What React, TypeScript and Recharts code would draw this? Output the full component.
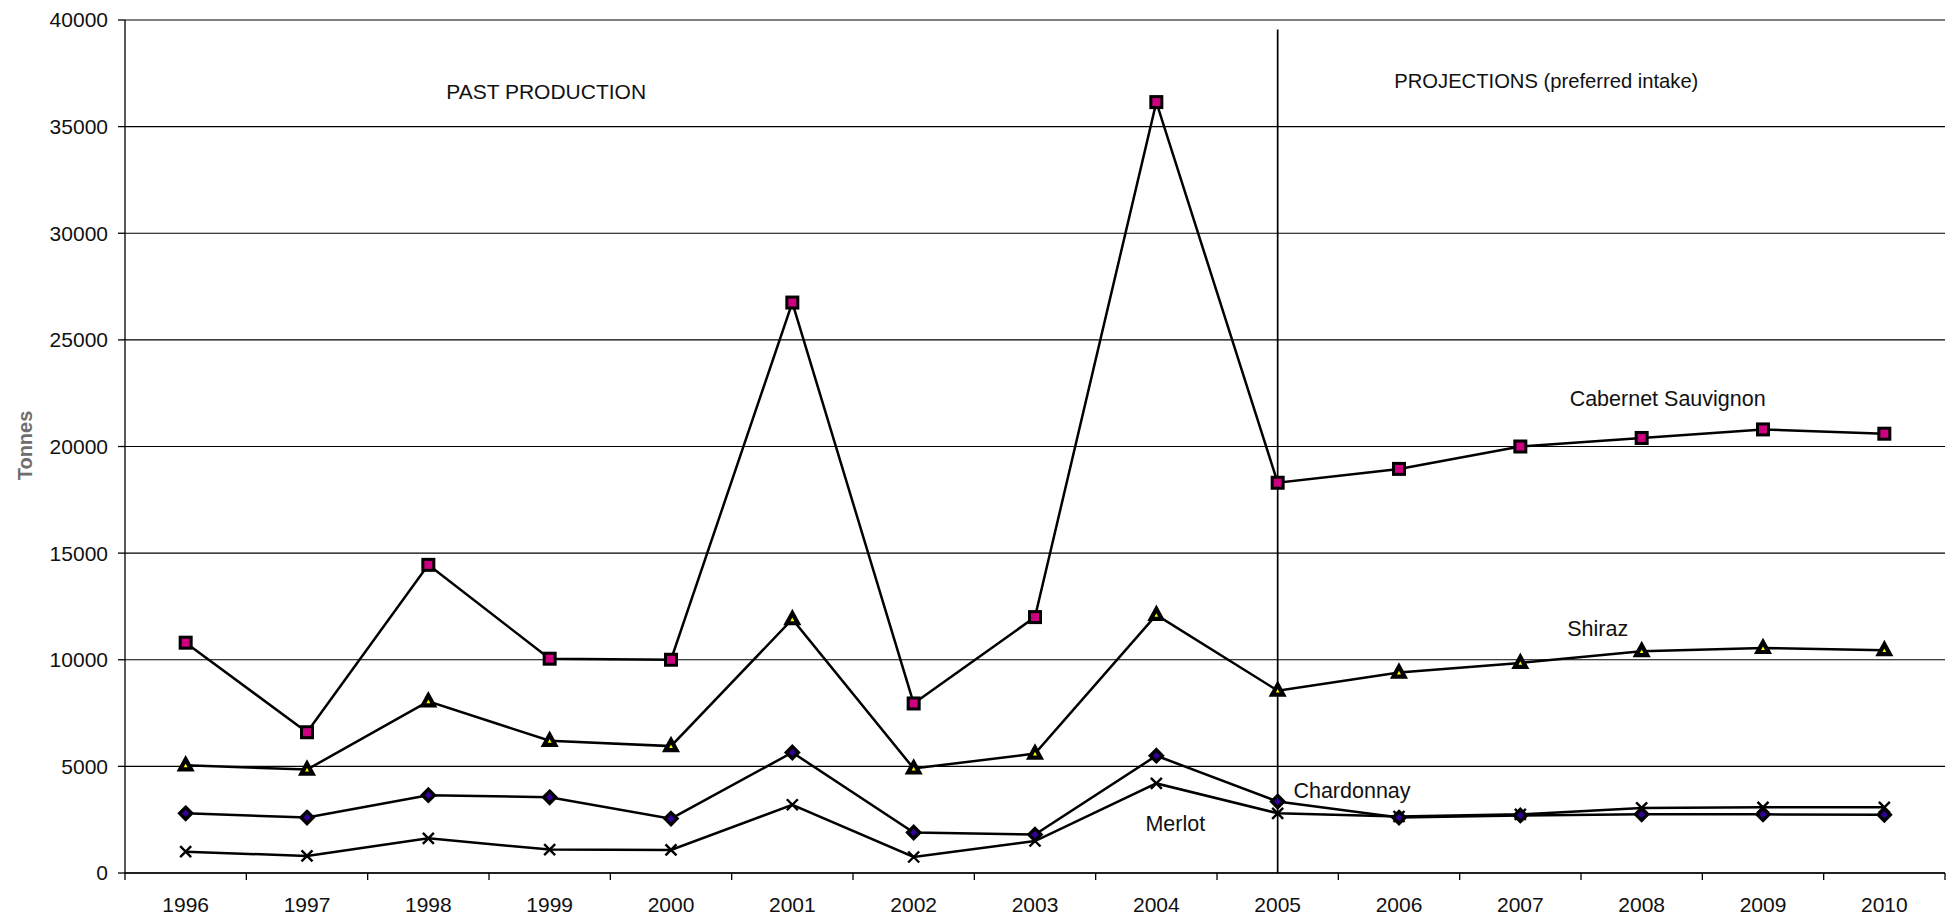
import React from 'react';
import {
  ComposedChart,
  Line,
  XAxis,
  YAxis,
  CartesianGrid,
  ReferenceLine,
  ReferenceDot,
} from 'recharts';

const years = ['1996', '1997', '1998', '1999', '2000', '2001', '2002', '2003', '2004', '2005', '2006', '2007', '2008', '2009', '2010'];
const cabernet = [10800, 6600, 14450, 10050, 10000, 26750, 7950, 12000, 36150, 18300, 18950, 20000, 20400, 20800, 20600];
const shiraz = [5050, 4850, 8050, 6200, 5950, 11900, 4900, 5600, 12100, 8550, 9400, 9850, 10400, 10550, 10450];
const chardonnay = [2800, 2600, 3650, 3550, 2550, 5650, 1900, 1800, 5500, 3350, 2600, 2700, 2750, 2750, 2730];
const merlot = [1000, 800, 1625, 1100, 1080, 3200, 750, 1500, 4200, 2800, 2650, 2750, 3050, 3080, 3080];
const yTicks = [0, 5000, 10000, 15000, 20000, 25000, 30000, 35000, 40000];

const data = years.map((year, i) => ({
  year,
  cabernet: cabernet[i],
  shiraz: shiraz[i],
  chardonnay: chardonnay[i],
  merlot: merlot[i],
}));

const FONT = '"Liberation Sans", Arial, Helvetica, sans-serif';

const SquareDot = (props: any) => {
  const { cx, cy } = props;
  if (cx == null || cy == null) return null;
  return <rect x={cx - 5.5} y={cy - 5.5} width={11} height={11} fill="#CC0080" stroke="#000" strokeWidth={3} />;
};

const TriangleDot = (props: any) => {
  const { cx, cy } = props;
  if (cx == null || cy == null) return null;
  return (
    <polygon
      points={`${cx},${cy - 6} ${cx - 5.5},${cy + 4} ${cx + 5.5},${cy + 4}`}
      fill="#FFFF00"
      stroke="#000"
      strokeWidth={4.2}
      strokeLinejoin="miter"
    />
  );
};

const DiamondDot = (props: any) => {
  const { cx, cy } = props;
  if (cx == null || cy == null) return null;
  return (
    <polygon
      points={`${cx},${cy - 6} ${cx + 6},${cy} ${cx},${cy + 6} ${cx - 6},${cy}`}
      fill="#330099"
      stroke="#000"
      strokeWidth={3.4}
    />
  );
};

const CrossDot = (props: any) => {
  const { cx, cy } = props;
  if (cx == null || cy == null) return null;
  return (
    <g stroke="#000" strokeWidth={2.4}>
      <line x1={cx - 5.5} y1={cy - 5.5} x2={cx + 5.5} y2={cy + 5.5} />
      <line x1={cx - 5.5} y1={cy + 5.5} x2={cx + 5.5} y2={cy - 5.5} />
    </g>
  );
};

const XTick = (props: any) => {
  const { x, y, payload, index } = props;
  const off = payload && payload.offset ? payload.offset : 0;
  const axisY = y - 24;
  const last = index === years.length - 1;
  return (
    <g>
      <line x1={x - off} y1={axisY} x2={x - off} y2={axisY + 7} stroke="#000" strokeWidth={1.3} />
      {last && <line x1={x + off} y1={axisY} x2={x + off} y2={axisY + 7} stroke="#000" strokeWidth={1.3} />}
      <text x={x} y={y} dy="0.71em" textAnchor="middle" fontFamily={FONT} fontSize={21} fill="#111">
        {payload.value}
      </text>
    </g>
  );
};

const makeLabel = (text: string, dx: number, size: number) => (p: any) => {
  const { cx, cy } = p;
  if (cx == null || cy == null) return null;
  return (
    <text x={cx + dx} y={cy} dy="0.355em" textAnchor="middle" fontFamily={FONT} fontSize={size} fill="#111">
      {text}
    </text>
  );
};

const TonnesLabel = (p: any) => {
  const vb = p.viewBox || { x: 0, y: 0, width: 0, height: 0 };
  const cx = vb.x + 24.5;
  const cy = vb.y + vb.height / 2 - 1;
  return (
    <text
      x={cx}
      y={cy}
      dy="0.355em"
      textAnchor="middle"
      transform={`rotate(-90 ${cx} ${cy})`}
      fontFamily={FONT}
      fontSize={20}
      fontWeight="bold"
      fill="#6e6e6e"
    >
      Tonnes
    </text>
  );
};

export default function App() {
  return (
    <div style={{ position: 'absolute', left: 0, top: 0, background: '#fff' }}>
      <ComposedChart
        width={1957}
        height={920}
        data={data}
        margin={{ top: 20, right: 12, left: 0, bottom: 0 }}
      >
        <CartesianGrid vertical={false} stroke="#000" strokeWidth={1.1} />
        <XAxis
          dataKey="year"
          scale="band"
          height={47}
          tickLine={false}
          tickSize={0}
          tickMargin={24}
          axisLine={{ stroke: '#000', strokeWidth: 1.3 }}
          tick={<XTick />}
          interval={0}
        />
        <YAxis
          width={125}
          domain={[0, 40000]}
          ticks={yTicks}
          interval={0}
          tickSize={7}
          tickMargin={10}
          tickLine={{ stroke: '#000', strokeWidth: 1.3 }}
          axisLine={{ stroke: '#000', strokeWidth: 1.3 }}
          tick={{ fontFamily: FONT, fontSize: 21, fill: '#111' }}
          label={{ content: <TonnesLabel /> }}
        />
        <ReferenceLine
          segment={[
            { x: '2005', y: 0 },
            { x: '2005', y: 39550 },
          ]}
          stroke="#000"
          strokeWidth={1.7}
        />
        <Line
          dataKey="merlot"
          stroke="#000"
          strokeWidth={2.5}
          dot={<CrossDot />}
          activeDot={false}
          isAnimationActive={false}
        />
        <Line
          dataKey="chardonnay"
          stroke="#000"
          strokeWidth={2.5}
          dot={<DiamondDot />}
          activeDot={false}
          isAnimationActive={false}
        />
        <Line
          dataKey="shiraz"
          stroke="#000"
          strokeWidth={2.5}
          dot={<TriangleDot />}
          activeDot={false}
          isAnimationActive={false}
        />
        <Line
          dataKey="cabernet"
          stroke="#000"
          strokeWidth={2.5}
          dot={<SquareDot />}
          activeDot={false}
          isAnimationActive={false}
        />
        <ReferenceDot x="1999" y={36656} r={0} shape={makeLabel('PAST PRODUCTION', -3.5, 21)} />
        <ReferenceDot x="2007" y={37125} r={0} shape={makeLabel('PROJECTIONS (preferred intake)', 26, 20.2)} />
        <ReferenceDot x="2008" y={22266} r={0} shape={makeLabel('Cabernet Sauvignon', 26, 21.5)} />
        <ReferenceDot x="2008" y={11484} r={0} shape={makeLabel('Shiraz', -44, 21.5)} />
        <ReferenceDot x="2006" y={3890} r={0} shape={makeLabel('Chardonnay', -47, 21.5)} />
        <ReferenceDot x="2004" y={2344} r={0} shape={makeLabel('Merlot', 19, 21.5)} />
      </ComposedChart>
    </div>
  );
}
